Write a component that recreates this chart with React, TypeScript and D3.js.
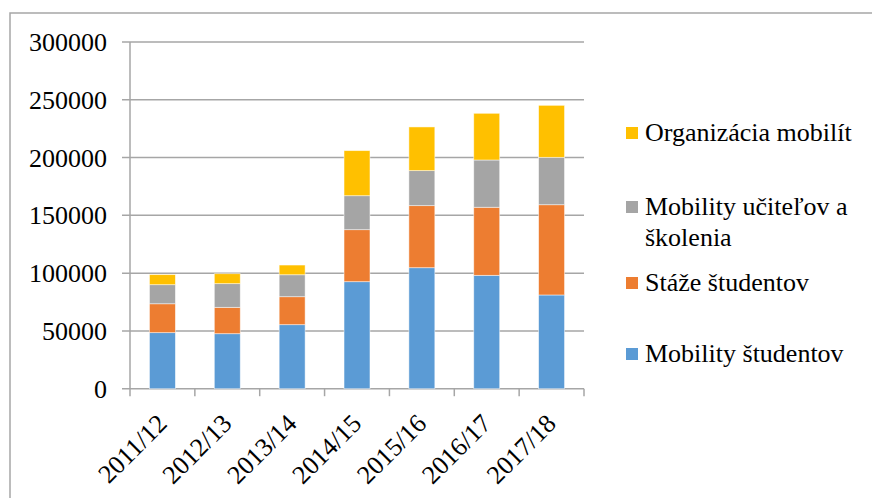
import React from 'react';
import * as d3 from 'd3';

// chart data
const years = ['2011/12', '2012/13', '2013/14', '2014/15', '2015/16', '2016/17', '2017/18'];
const mobilityStudentov = [48500, 47600, 55400, 92600, 104700, 98100, 81100];
const stazeStudentov = [25000, 22800, 24200, 45000, 53700, 58900, 78100];
const mobilityUcitelov = [16500, 20500, 19000, 29400, 30300, 40900, 41000];
const organizaciaMobilit = [8700, 8600, 8400, 39000, 37800, 40400, 45000];
const yTicks = [0, 50000, 100000, 150000, 200000, 250000, 300000];

const seriesNames = ['Mobility študentov', 'Stáže študentov', 'Mobility učiteľov a školenia', 'Organizácia mobilít'];
const seriesColors = ['#5B9BD5', '#ED7D31', '#A5A5A5', '#FFC000'];
const seriesValues = [mobilityStudentov, stazeStudentov, mobilityUcitelov, organizaciaMobilit];

const W = 872;
const H = 498;
const FONT = 'Liberation Serif, Times New Roman, DejaVu Serif, serif';

export default function App() {
  const left = 130;
  const right = 584;
  const top = 42;
  const bottom = 388.7;

  const rows = years.map((y, i) => {
    const r: any = { year: y };
    seriesNames.forEach((s, k) => (r[s] = seriesValues[k][i]));
    return r;
  });
  const stacked = d3.stack().keys(seriesNames)(rows);

  const x = d3.scaleBand().domain(years).range([left, right]).paddingInner(0.6).paddingOuter(0.3);
  const y = d3.scaleLinear().domain([0, 300000]).range([bottom, top]);
  const step = x.step();

  // legend layout (top to bottom, reversed stacking order)
  const legendOrder = [3, 2, 1, 0];
  const legendBaselines = [141, 215, 291, 362];
  const legendLines: Record<number, string[]> = {
    2: ['Mobility učiteľov a', 'školenia'],
  };

  return (
    <svg width={W} height={H} style={{ position: 'absolute', left: 0, top: 0, fontFamily: FONT }}>
      <rect x={0} y={0} width={W} height={H} fill="#fff" />
      <rect x={10} y={13} width={W + 20} height={H + 20} fill="none" stroke="#a6a6a6" strokeWidth={1.5} />

      {/* gridlines and y labels */}
      {yTicks.map(t => (
        <g key={t}>
          <line x1={122} x2={right} y1={y(t)} y2={y(t)} stroke="#a6a6a6" strokeWidth={1.5} />
          <text x={107} y={y(t) + 9} textAnchor="end" fontSize={26} fill="#000">{t}</text>
        </g>
      ))}
      <line x1={left} x2={left} y1={top} y2={bottom} stroke="#a6a6a6" strokeWidth={1.5} />

      {/* x ticks */}
      {d3.range(years.length + 1).map(i => (
        <line key={i} x1={left + i * step} x2={left + i * step} y1={bottom} y2={bottom + 7.5}
          stroke="#a6a6a6" strokeWidth={1.5} />
      ))}

      {/* bars */}
      {stacked.map((layer, k) => (
        <g key={layer.key} fill={seriesColors[k]}>
          {layer.map((d, i) => (
            <rect key={i} x={x(years[i])} width={x.bandwidth()} y={y(d[1])} height={y(d[0]) - y(d[1])}
              stroke="#ffffff" strokeOpacity={0.6} strokeWidth={0.8} />
          ))}
        </g>
      ))}

      {/* x labels */}
      {years.map(yr => {
        const cx = (x(yr) as number) + x.bandwidth() / 2;
        return (
          <text key={yr} transform={`translate(${cx + 6},${425}) rotate(-45)`} textAnchor="end"
            fontSize={26} fill="#000">{yr}</text>
        );
      })}

      {/* legend */}
      {legendOrder.map((k, j) => {
        const by = legendBaselines[j];
        const lines = legendLines[k] || [seriesNames[k]];
        return (
          <g key={k}>
            <rect x={626} y={by - 14} width={12} height={12} fill={seriesColors[k]} />
            <text x={645} y={by} fontSize={26} fill="#000">
              {lines.map((l, li) => (
                <tspan key={li} x={645} dy={li === 0 ? 0 : 30.5}>{l}</tspan>
              ))}
            </text>
          </g>
        );
      })}
    </svg>
  );
}
